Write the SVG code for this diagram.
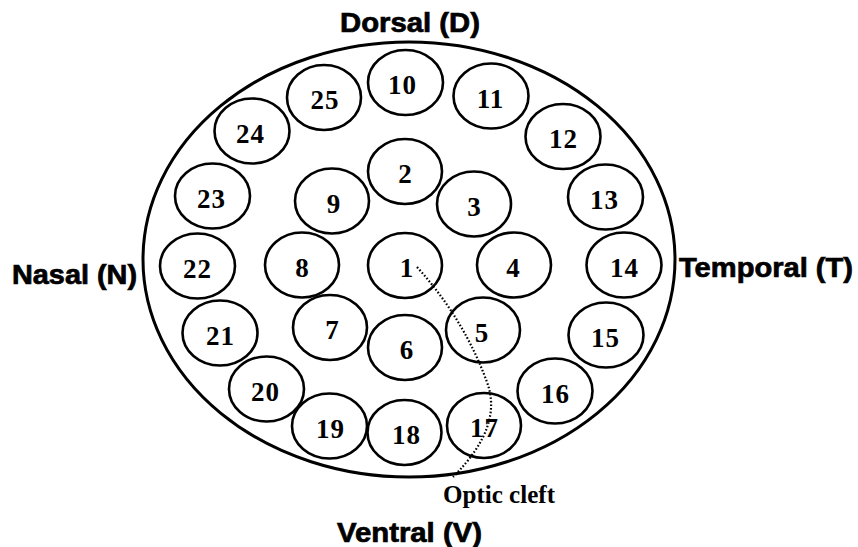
<svg xmlns="http://www.w3.org/2000/svg" width="858" height="547" viewBox="0 0 858 547">
<style>
.bg{fill:#fff}
.eye{fill:none;stroke:#000;stroke-width:3}
.c{fill:none;stroke:#000;stroke-width:2.6}
.n{font-family:"Liberation Serif","Times New Roman",serif;font-size:27px;font-weight:bold;text-anchor:middle;fill:#000;letter-spacing:1px}
.lab{font-family:"Liberation Sans",Arial,sans-serif;font-size:27px;font-weight:bold;fill:#000;stroke:#000;stroke-width:0.7}
.cleft{font-family:"Liberation Serif","Times New Roman",serif;font-size:25px;font-weight:bold;fill:#000}
.dot{fill:none;stroke:#000;stroke-width:2.2;stroke-dasharray:1.6 2}
</style>
<rect class="bg" x="0" y="0" width="858" height="547"/>
<g id="eye"><ellipse class="eye" cx="409" cy="259.5" rx="266" ry="217.5"/></g>
<g id="labels">
<text class="lab" x="340" y="32" textLength="140" lengthAdjust="spacingAndGlyphs">Dorsal (D)</text>
<text class="lab" x="12" y="284" textLength="125" lengthAdjust="spacingAndGlyphs">Nasal (N)</text>
<text class="lab" x="679" y="277" textLength="174" lengthAdjust="spacingAndGlyphs">Temporal (T)</text>
<text class="lab" x="337" y="542" textLength="145" lengthAdjust="spacingAndGlyphs">Ventral (V)</text>
<text class="cleft" x="443" y="503" textLength="112" lengthAdjust="spacingAndGlyphs">Optic cleft</text>
</g>
<g id="n1"><ellipse class="c" cx="405" cy="265.5" rx="37" ry="32.5"/><text class="n" x="407" y="277">1</text></g>
<g id="n2"><ellipse class="c" cx="405" cy="171.5" rx="37" ry="32.5"/><text class="n" x="405.5" y="183">2</text></g>
<g id="n3"><ellipse class="c" cx="474" cy="204" rx="37" ry="32.5"/><text class="n" x="474.5" y="216">3</text></g>
<g id="n4"><ellipse class="c" cx="514" cy="265" rx="37" ry="32.5"/><text class="n" x="513.5" y="277">4</text></g>
<g id="n5"><ellipse class="c" cx="483" cy="330" rx="37" ry="32.5"/><text class="n" x="482" y="342">5</text></g>
<g id="n6"><ellipse class="c" cx="405" cy="347.5" rx="37" ry="32.5"/><text class="n" x="407" y="359">6</text></g>
<g id="n7"><ellipse class="c" cx="330" cy="327.5" rx="37" ry="32.5"/><text class="n" x="332.5" y="339">7</text></g>
<g id="n8"><ellipse class="c" cx="302" cy="265" rx="37" ry="32.5"/><text class="n" x="302.5" y="277">8</text></g>
<g id="n9"><ellipse class="c" cx="332" cy="201" rx="37" ry="32.5"/><text class="n" x="334" y="213">9</text></g>
<g id="n10"><ellipse class="c" cx="405.5" cy="82.5" rx="37.5" ry="32.5"/><text class="n" x="402.5" y="94">10</text></g>
<g id="n11"><ellipse class="c" cx="491" cy="96" rx="37.5" ry="32.5"/><text class="n" x="490.5" y="108">11</text></g>
<g id="n12"><ellipse class="c" cx="563" cy="136.5" rx="37.5" ry="32.5"/><text class="n" x="563.5" y="148">12</text></g>
<g id="n13"><ellipse class="c" cx="605.5" cy="197" rx="37.5" ry="32.5"/><text class="n" x="604.5" y="209">13</text></g>
<g id="n14"><ellipse class="c" cx="624" cy="265" rx="37.5" ry="32.5"/><text class="n" x="624.5" y="277">14</text></g>
<g id="n15"><ellipse class="c" cx="606" cy="335" rx="37.5" ry="32.5"/><text class="n" x="605.5" y="347">15</text></g>
<g id="n16"><ellipse class="c" cx="555" cy="391" rx="37.5" ry="32.5"/><text class="n" x="555.5" y="403">16</text></g>
<g id="n17"><ellipse class="c" cx="484" cy="425.5" rx="37" ry="32.5"/><text class="n" x="484.5" y="437">17</text></g>
<g id="n18"><ellipse class="c" cx="404.5" cy="432.5" rx="37" ry="32.5"/><text class="n" x="406.5" y="444">18</text></g>
<g id="n19"><ellipse class="c" cx="329.5" cy="426" rx="37.5" ry="32.5"/><text class="n" x="330.5" y="438">19</text></g>
<g id="n20"><ellipse class="c" cx="266.5" cy="389" rx="37.5" ry="32.5"/><text class="n" x="265.5" y="401">20</text></g>
<g id="n21"><ellipse class="c" cx="220" cy="333" rx="37.5" ry="32.5"/><text class="n" x="220.5" y="345">21</text></g>
<g id="n22"><ellipse class="c" cx="197.5" cy="266" rx="37.5" ry="32.5"/><text class="n" x="197.5" y="278">22</text></g>
<g id="n23"><ellipse class="c" cx="212.5" cy="196" rx="37.5" ry="32.5"/><text class="n" x="211.5" y="208">23</text></g>
<g id="n24"><ellipse class="c" cx="252" cy="131" rx="37.5" ry="32.5"/><text class="n" x="250.5" y="143">24</text></g>
<g id="n25"><ellipse class="c" cx="324" cy="97.5" rx="37" ry="32.5"/><text class="n" x="325" y="109">25</text></g>
<g id="connectors">
<path class="dot" d="M417,267 Q465,320 488,385 C496,410 490,440 453,477"/>
</g>
</svg>
